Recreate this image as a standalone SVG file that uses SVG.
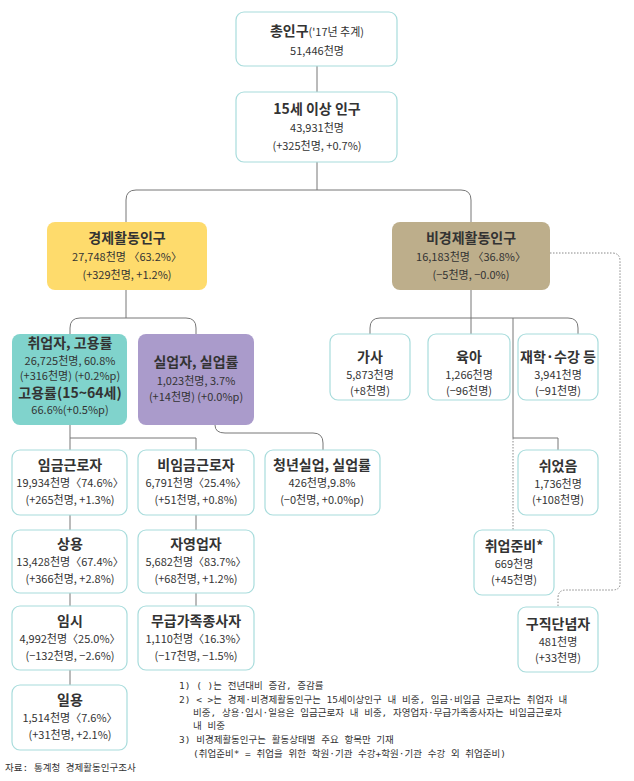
<svg xmlns="http://www.w3.org/2000/svg" width="634" height="781" viewBox="0 0 634 781">
<style>
.b{fill:#fff;stroke:#a8dcdc;stroke-width:1.2}
text{font-family:"Noto Sans CJK KR","Noto Sans",sans-serif;fill:#333;text-anchor:middle}
.t{font-size:14px;font-weight:bold}
.s{font-size:11px}
.c{fill:none;stroke:#777;stroke-width:1}
.d{fill:none;stroke:#888;stroke-width:1;stroke-dasharray:1.5 1.5}
.f{font-size:9.5px;text-anchor:start;font-family:"DejaVu Sans Mono","Noto Sans CJK KR",monospace}
</style>
<rect width="634" height="781" fill="#fff"/>
<g id="connectors">
<path class="c" d="M317 66V92M317 162V190H136Q126 190 126 200V222M317 190H461Q471 190 471 200V222"/>
<path class="c" d="M126 290V318H80Q70 318 70 328V334M126 318H186Q196 318 196 328V334"/>
<path class="c" d="M70 425V438H196M70 438V450M196 438V450M215 425Q215 433 225 433H313Q323 433 323 443V450"/>
<path class="c" d="M70 515V530M196 515V530M70 593V606M196 593V606M70 670V685"/>
<path class="c" d="M471 290V318H380Q370 318 370 328V334M471 318V334M471 318H568Q578 318 578 328V334M513 318V438H558V450"/>
<path class="d" d="M513 438V530M550 253H612Q620 253 620 261V584Q620 590 612 590H566Q558 590 558 598V607"/>
</g>
<g id="n1"><rect class="b" x="236" y="12" width="161" height="54" rx="8"/><text class="t" x="317" y="36">총인구<tspan class="s" font-weight="normal">('17년 추계)</tspan></text><text class="s" x="317" y="55">51,446천명</text></g>
<g id="n2"><rect class="b" x="236" y="92" width="161" height="70" rx="8"/><text class="t" x="317" y="114">15세 이상 인구</text><text class="s" x="317" y="132">43,931천명</text><text class="s" x="317" y="150">(+325천명, +0.7%)</text></g>
<g id="n3"><rect x="47" y="222" width="160" height="68" rx="8" fill="#fedb6c"/><text class="t" x="127" y="243">경제활동인구</text><text class="s" x="127" y="261">27,748천명 〈63.2%〉</text><text class="s" x="127" y="279">(+329천명, +1.2%)</text></g>
<g id="n4"><rect x="392" y="222" width="158" height="68" rx="8" fill="#bdae8b"/><text class="t" x="471" y="243">비경제활동인구</text><text class="s" x="471" y="261">16,183천명 〈36.8%〉</text><text class="s" x="471" y="279">(−5천명, −0.0%)</text></g>
<g id="n5"><rect x="12" y="334" width="115" height="91" rx="8" fill="#80d3cc"/><text class="t" x="70" y="348" font-size="12.5">취업자, 고용률</text><text class="s" x="70" y="365" font-size="10">26,725천명, 60.8%</text><text class="s" x="70" y="380" font-size="10">(+316천명) (+0.2%p)</text><text class="t" x="70" y="398" font-size="12.5">고용률(15~64세)</text><text class="s" x="70" y="414" font-size="10">66.6%(+0.5%p)</text></g>
<g id="n6"><rect x="138" y="334" width="116" height="91" rx="8" fill="#aa9bcb"/><text class="t" x="196" y="367">실업자, 실업률</text><text class="s" x="196" y="385">1,023천명, 3.7%</text><text class="s" x="196" y="401">(+14천명) (+0.0%p)</text></g>
<g id="n7"><rect class="b" x="12" y="450" width="115" height="65" rx="8"/><text class="t" x="70" y="470">임금근로자</text><text class="s" x="70" y="487">19,934천명〈74.6%〉</text><text class="s" x="70" y="504">(+265천명, +1.3%)</text></g>
<g id="n8"><rect class="b" x="138" y="450" width="116" height="65" rx="8"/><text class="t" x="196" y="470">비임금근로자</text><text class="s" x="196" y="487">6,791천명〈25.4%〉</text><text class="s" x="196" y="504">(+51천명, +0.8%)</text></g>
<g id="n9"><rect class="b" x="265" y="450" width="115" height="65" rx="8"/><text class="t" x="322" y="470">청년실업, 실업률</text><text class="s" x="322" y="487">426천명,9.8%</text><text class="s" x="322" y="504">(−0천명, +0.0%p)</text></g>
<g id="n10"><rect class="b" x="12" y="530" width="115" height="63" rx="8"/><text class="t" x="70" y="549">상용</text><text class="s" x="70" y="566">13,428천명〈67.4%〉</text><text class="s" x="70" y="583">(+366천명, +2.8%)</text></g>
<g id="n11"><rect class="b" x="138" y="530" width="116" height="63" rx="8"/><text class="t" x="196" y="549">자영업자</text><text class="s" x="196" y="566">5,682천명〈83.7%〉</text><text class="s" x="196" y="583">(+68천명, +1.2%)</text></g>
<g id="n12"><rect class="b" x="12" y="606" width="115" height="64" rx="8"/><text class="t" x="70" y="626">임시</text><text class="s" x="70" y="643">4,992천명〈25.0%〉</text><text class="s" x="70" y="660">(−132천명, −2.6%)</text></g>
<g id="n13"><rect class="b" x="138" y="606" width="116" height="64" rx="8"/><text class="t" x="196" y="626">무급가족종사자</text><text class="s" x="196" y="643">1,110천명〈16.3%〉</text><text class="s" x="196" y="660">(−17천명, −1.5%)</text></g>
<g id="n14"><rect class="b" x="12" y="685" width="115" height="65" rx="8"/><text class="t" x="70" y="705">일용</text><text class="s" x="70" y="722">1,514천명〈7.6%〉</text><text class="s" x="70" y="739">(+31천명, +2.1%)</text></g>
<g id="n15"><rect class="b" x="330" y="334" width="80" height="66" rx="8"/><text class="t" x="370" y="362">가사</text><text class="s" x="370" y="379">5,873천명</text><text class="s" x="370" y="395">(+8천명)</text></g>
<g id="n16"><rect class="b" x="428" y="334" width="82" height="66" rx="8"/><text class="t" x="469" y="362">육아</text><text class="s" x="469" y="379">1,266천명</text><text class="s" x="469" y="395">(−96천명)</text></g>
<g id="n17"><rect class="b" x="518" y="334" width="80" height="66" rx="8"/><text class="t" x="558" y="362">재학·수강 등</text><text class="s" x="558" y="379">3,941천명</text><text class="s" x="558" y="395">(−91천명)</text></g>
<g id="n18"><rect class="b" x="518" y="450" width="80" height="65" rx="8"/><text class="t" x="558" y="471">쉬었음</text><text class="s" x="558" y="488">1,736천명</text><text class="s" x="558" y="504">(+108천명)</text></g>
<g id="n19"><rect class="b" x="474" y="530" width="80" height="65" rx="8"/><text class="t" x="514" y="551">취업준비*</text><text class="s" x="514" y="568">669천명</text><text class="s" x="514" y="584">(+45천명)</text></g>
<g id="n20"><rect class="b" x="518" y="607" width="80" height="65" rx="8"/><text class="t" x="558" y="629">구직단념자</text><text class="s" x="558" y="646">481천명</text><text class="s" x="558" y="662">(+33천명)</text></g>
<g id="notes">
<text class="f" x="179" y="689">1) (  )는 전년대비 증감, 증감률</text>
<text class="f" x="179" y="703">2) &lt; &gt;는 경제·비경제활동인구는 15세이상인구 내 비중, 임금·비임금 근로자는 취업자 내</text>
<text class="f" x="193" y="716">비중, 상용·임시·일용은 임금근로자 내 비중, 자영업자·무급가족종사자는 비임금근로자</text>
<text class="f" x="193" y="729">내 비중</text>
<text class="f" x="179" y="743">3) 비경제활동인구는 활동상태별 주요 항목만 기재</text>
<text class="f" x="193" y="757">(취업준비* = 취업을 위한 학원·기관 수강+학원·기관 수강 외 취업준비)</text>
<text class="f" x="5" y="771">자료: 통계청 경제활동인구조사</text>
</g>
</svg>
